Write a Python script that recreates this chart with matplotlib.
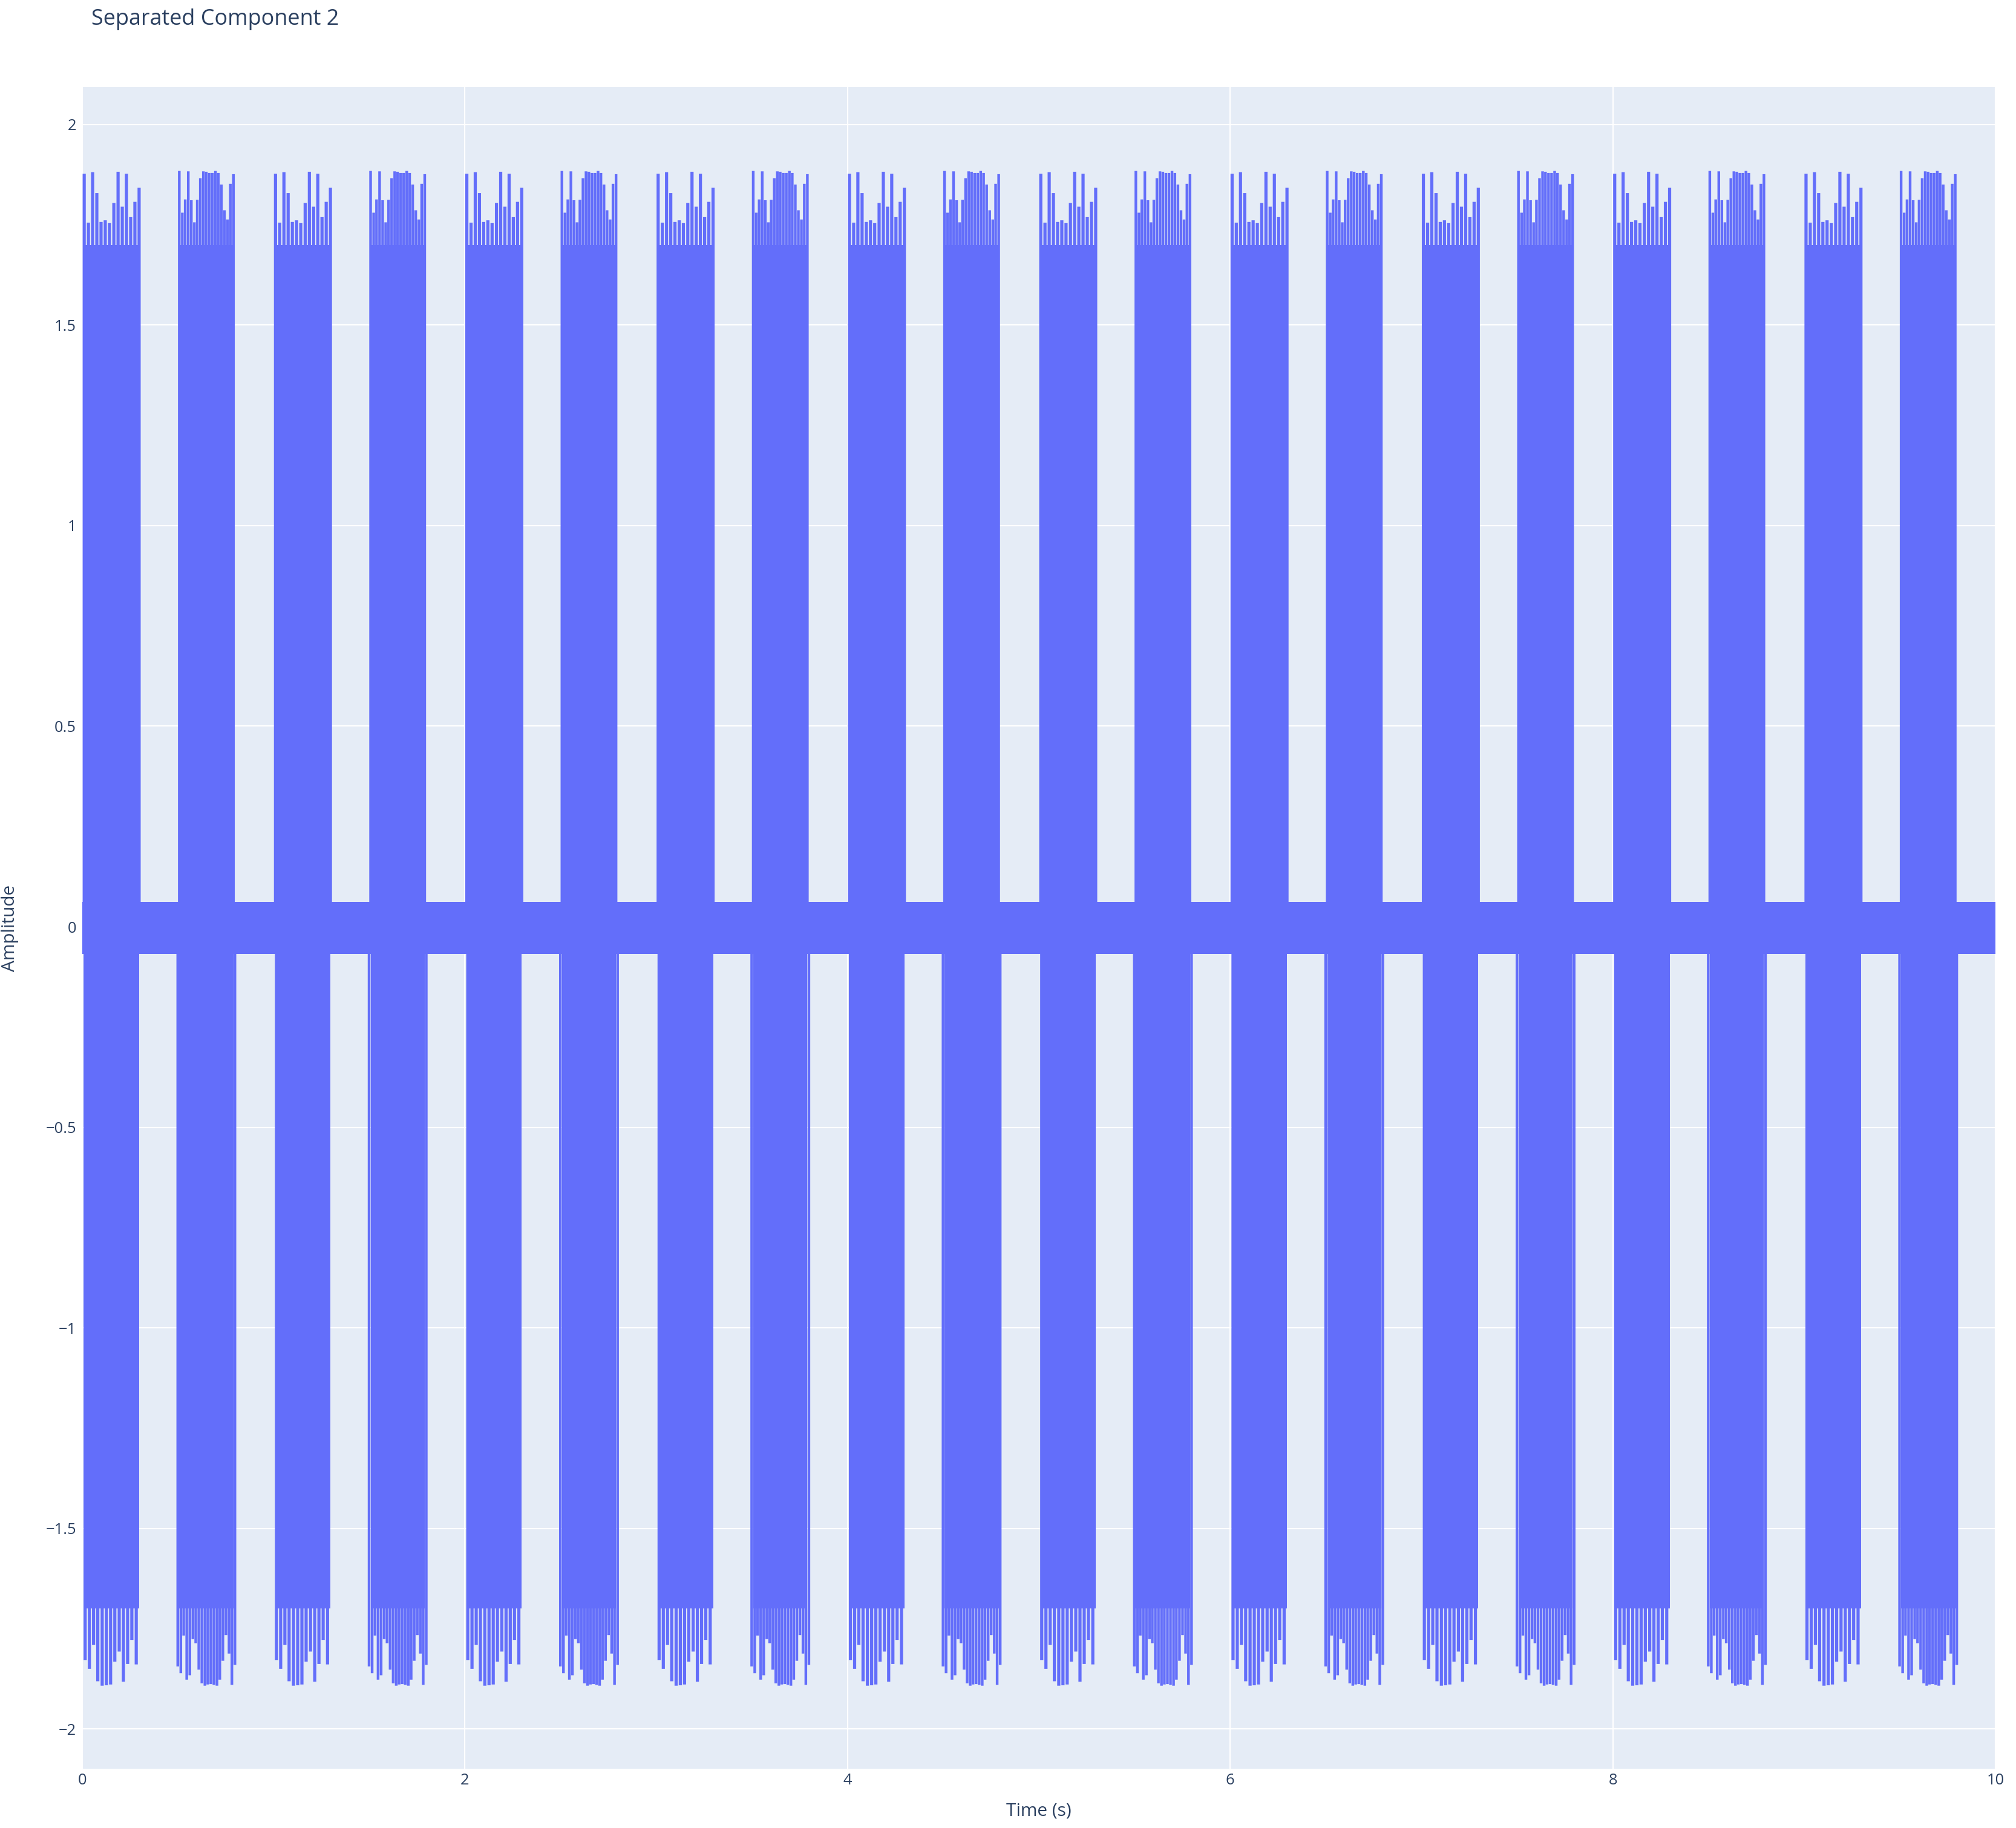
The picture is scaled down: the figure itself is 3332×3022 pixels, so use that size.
import matplotlib
matplotlib.use('Agg')
import matplotlib.pyplot as plt

# burst starts (s): type A bursts at whole seconds, type B bursts half a second later
A_STARTS = [0.0, 1.0, 2.0, 3.0, 4.0, 5.0, 6.0, 7.0, 8.0, 9.0]
B_STARTS = [0.5, 1.5, 2.5, 3.5, 4.5, 5.5, 6.5, 7.5, 8.5, 9.5]

# type A burst: peak offsets in the burst (s) and peak values
A_TOP_OFFSETS = [0.010, 0.032, 0.054, 0.076, 0.098, 0.120, 0.142,
                 0.165, 0.187, 0.209, 0.231, 0.253, 0.275, 0.297]
A_TOP = [1.877, 1.755, 1.881, 1.829, 1.757, 1.761, 1.754,
         1.804, 1.882, 1.795, 1.877, 1.769, 1.807, 1.842]
A_BOT_OFFSETS = [0.015, 0.037, 0.059, 0.081, 0.104, 0.126, 0.148,
                 0.170, 0.193, 0.215, 0.237, 0.259, 0.282]
A_BOT = [-1.828, -1.850, -1.790, -1.881, -1.892, -1.891, -1.889,
         -1.832, -1.807, -1.882, -1.838, -1.778, -1.839]

# type B burst
B_TOP_OFFSETS = [0.007, 0.023, 0.038, 0.054, 0.070, 0.086, 0.101, 0.117, 0.133, 0.148,
                 0.164, 0.180, 0.196, 0.211, 0.227, 0.243, 0.259, 0.274, 0.290]
B_TOP = [1.884, 1.780, 1.813, 1.883, 1.811, 1.756, 1.812, 1.866, 1.883, 1.882,
         1.879, 1.879, 1.884, 1.879, 1.850, 1.786, 1.763, 1.852, 1.876]
B_BOT_OFFSETS = [-0.001, 0.015, 0.030, 0.046, 0.062, 0.078, 0.093, 0.109, 0.125, 0.141,
                 0.156, 0.172, 0.188, 0.204, 0.219, 0.235, 0.251, 0.267, 0.282, 0.298]
B_BOT = [-1.844, -1.861, -1.767, -1.877, -1.866, -1.776, -1.786, -1.852, -1.886, -1.892,
         -1.889, -1.888, -1.890, -1.892, -1.877, -1.830, -1.766, -1.812, -1.890, -1.840]

# level below which the bursts look solid
CORE = (-1.70, 1.70)

# low-level residue between bursts
NOISE_T = [0.0, 10.0]
NOISE_LO = [-0.068, -0.068]
NOISE_HI = [0.062, 0.062]

Y_TICKS = [-2, -1.5, -1, -0.5, 0, 0.5, 1, 1.5, 2]
X_TICKS = [0, 2, 4, 6, 8, 10]

BLUE = '#636efa'
TXT = '#2a3f5f'
DPI = 200
PX = 72 / DPI  # points per pixel

plt.rcParams['font.family'] = ['Open Sans', 'DejaVu Sans']

fig = plt.figure(figsize=(3332 / DPI, 3022 / DPI), dpi=DPI)
ax = fig.add_axes([136 / 3332, 1 - 2924 / 3022, (3298 - 136) / 3332, (2924 - 144) / 3022])
ax.set_facecolor('#e5ecf6')

ax.fill_between(NOISE_T, NOISE_LO, NOISE_HI, color=BLUE, lw=0, zorder=2)

for s in A_STARTS:
    ax.vlines([s + o for o in A_TOP_OFFSETS], 0, A_TOP, color=BLUE, lw=5.2 * PX, zorder=3, snap=False)
    ax.vlines([s + o for o in A_BOT_OFFSETS], A_BOT, 0, color=BLUE, lw=5.2 * PX, zorder=3, snap=False)
    ax.fill_between([s + A_TOP_OFFSETS[0], s + A_TOP_OFFSETS[-1]], CORE[0], CORE[1],
                    color=BLUE, lw=0, zorder=3)

for s in B_STARTS:
    ax.vlines([s + o for o in B_TOP_OFFSETS], 0, B_TOP, color=BLUE, lw=4.4 * PX, zorder=3, snap=False)
    ax.vlines([s + o for o in B_BOT_OFFSETS], B_BOT, 0, color=BLUE, lw=4.4 * PX, zorder=3, snap=False)
    ax.fill_between([s + B_TOP_OFFSETS[0], s + B_TOP_OFFSETS[-1]], CORE[0], CORE[1],
                    color=BLUE, lw=0, zorder=3)

ax.set_xlim(0, 10)
ax.set_ylim(-2.099, 2.093)
ax.set_xticks(X_TICKS)
ax.set_xticklabels([str(t) for t in X_TICKS])
ax.set_yticks(Y_TICKS)
ax.set_yticklabels([('%g' % t).replace('-', '\u2212') for t in Y_TICKS])
ax.grid(True, color='white', lw=2.2 * PX)
ax.set_axisbelow(True)
for sp in ax.spines.values():
    sp.set_visible(False)
ax.tick_params(length=0, labelsize=25.5 * PX, labelcolor=TXT)
ax.tick_params(axis='x', pad=7 * PX)
ax.tick_params(axis='y', pad=10 * PX)

fig.text(1717 / 3332, 1 - 2994 / 3022, 'Time (s)', ha='center', va='center',
         fontsize=29.75 * PX, color=TXT)
fig.text(17 / 3332, 1 - 1534 / 3022, 'Amplitude', ha='center', va='center',
         rotation=90, fontsize=29.75 * PX, color=TXT)
fig.text(151 / 3332, 1 - 32 / 3022, 'Separated Component 2', ha='left', va='center',
         fontsize=36 * PX, color=TXT)

fig.savefig('out.png', dpi=DPI)
